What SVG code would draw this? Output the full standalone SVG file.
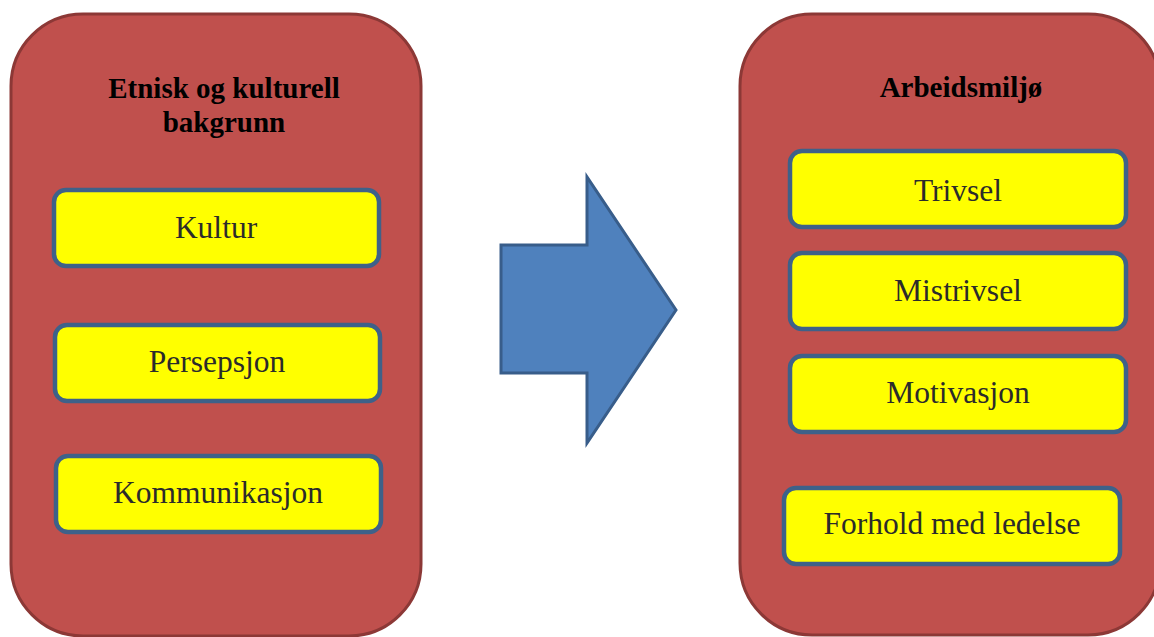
<svg xmlns="http://www.w3.org/2000/svg" width="1154" height="637" viewBox="0 0 1154 637">
  <style>
    .panel { fill: #C0504D; stroke: #8C3836; stroke-width: 3; }
    .item { fill: #FFFF00; stroke: #3E6189; stroke-width: 4.5; }
    .title { font-family: "Liberation Serif", "Times New Roman", serif; font-weight: bold; font-size: 29px; fill: #000; text-anchor: middle; }
    .label { font-family: "Liberation Serif", "Times New Roman", serif; font-size: 31.5px; fill: #2B2B2B; text-anchor: middle; }
    .arrow { fill: #4F81BD; stroke: #385D8A; stroke-width: 3; }
  </style>

  <!-- Left panel -->
  <g id="panel-left">
    <rect class="panel" x="11" y="14" width="410" height="622" rx="72" ry="72"/>
    <text class="title" x="224" y="98">Etnisk og kulturell</text>
    <text class="title" x="224" y="132">bakgrunn</text>
  </g>
  <g id="node-kultur">
    <rect class="item" x="54" y="190" width="325" height="76" rx="12" ry="12"/>
    <text class="label" x="216" y="238">Kultur</text>
  </g>
  <g id="node-persepsjon">
    <rect class="item" x="55" y="325" width="325" height="76" rx="12" ry="12"/>
    <text class="label" x="217" y="372">Persepsjon</text>
  </g>
  <g id="node-kommunikasjon">
    <rect class="item" x="56" y="456" width="325" height="76" rx="12" ry="12"/>
    <text class="label" x="218" y="503">Kommunikasjon</text>
  </g>

  <!-- Connector -->
  <g id="connectors">
    <polygon class="arrow" points="501,245 587,245 587,177 676,310 587,443 587,373 501,373"/>
  </g>

  <!-- Right panel -->
  <g id="panel-right">
    <rect class="panel" x="740" y="14" width="420" height="621" rx="72" ry="72"/>
    <text class="title" x="961" y="97">Arbeidsmiljø</text>
  </g>
  <g id="node-trivsel">
    <rect class="item" x="790" y="151" width="336" height="76" rx="12" ry="12"/>
    <text class="label" x="958" y="201">Trivsel</text>
  </g>
  <g id="node-mistrivsel">
    <rect class="item" x="790" y="253" width="336" height="76" rx="12" ry="12"/>
    <text class="label" x="958" y="301">Mistrivsel</text>
  </g>
  <g id="node-motivasjon">
    <rect class="item" x="790" y="356" width="336" height="76" rx="12" ry="12"/>
    <text class="label" x="958" y="403">Motivasjon</text>
  </g>
  <g id="node-forhold">
    <rect class="item" x="784" y="488" width="336" height="76" rx="12" ry="12"/>
    <text class="label" x="952" y="534">Forhold med ledelse</text>
  </g>
</svg>
